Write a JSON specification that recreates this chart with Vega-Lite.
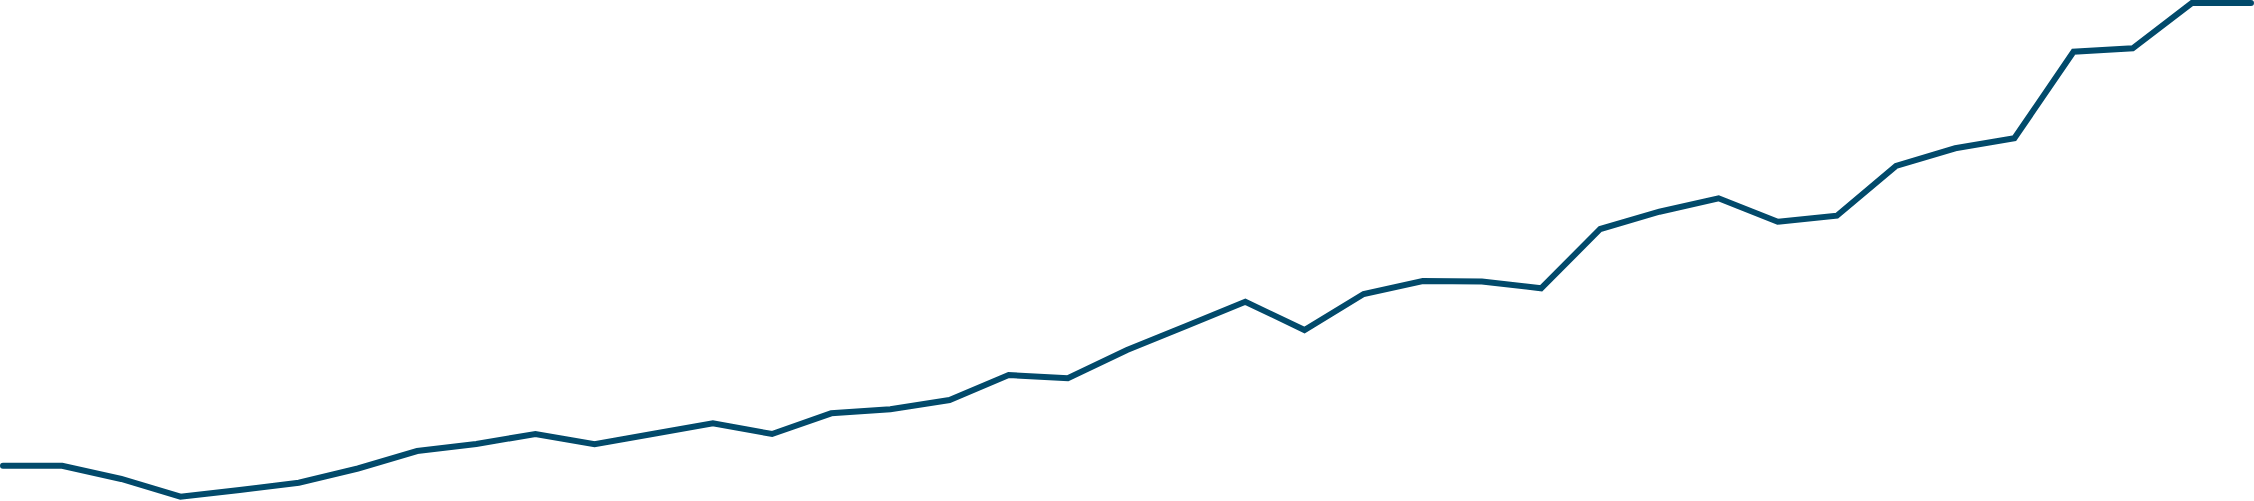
{
  "$schema": "https://vega.github.io/schema/vega-lite/v6.json",
  "width": 2254,
  "height": 501,
  "autosize": {"type": "none"},
  "padding": 0,
  "background": "white",
  "config": {"view": {"stroke": null}},
  "data": {
    "values": [
      {"i": 0, "v": 35.3}, {"i": 1, "v": 35.3}, {"i": 2, "v": 22}, {"i": 3, "v": 4.3},
      {"i": 4, "v": 11}, {"i": 5, "v": 18.3}, {"i": 6, "v": 32.5}, {"i": 7, "v": 50},
      {"i": 8, "v": 57}, {"i": 9, "v": 67}, {"i": 10, "v": 56.7}, {"i": 11, "v": 67.3},
      {"i": 12, "v": 77.7}, {"i": 13, "v": 67}, {"i": 14, "v": 87.7}, {"i": 15, "v": 91.7},
      {"i": 16, "v": 101}, {"i": 17, "v": 126}, {"i": 18, "v": 122.7}, {"i": 19, "v": 151},
      {"i": 20, "v": 175}, {"i": 21, "v": 199.3}, {"i": 22, "v": 171}, {"i": 23, "v": 207},
      {"i": 24, "v": 220}, {"i": 25, "v": 219.5}, {"i": 26, "v": 212.7}, {"i": 27, "v": 272},
      {"i": 28, "v": 289.3}, {"i": 29, "v": 302.7}, {"i": 30, "v": 279.3}, {"i": 31, "v": 285.3},
      {"i": 32, "v": 335}, {"i": 33, "v": 352.7}, {"i": 34, "v": 362.7}, {"i": 35, "v": 449.3},
      {"i": 36, "v": 452.7}, {"i": 37, "v": 498}, {"i": 38, "v": 498}
    ]
  },
  "mark": {
    "type": "line",
    "stroke": "#024a6b",
    "strokeWidth": 6,
    "strokeCap": "round",
    "strokeJoin": "miter"
  },
  "encoding": {
    "x": {
      "field": "i",
      "type": "quantitative",
      "scale": {"domain": [0, 38], "range": [3, 2251], "nice": false, "zero": false},
      "axis": null
    },
    "y": {
      "field": "v",
      "type": "quantitative",
      "scale": {"domain": [0, 501], "range": [501, 0], "nice": false},
      "axis": null
    }
  }
}
